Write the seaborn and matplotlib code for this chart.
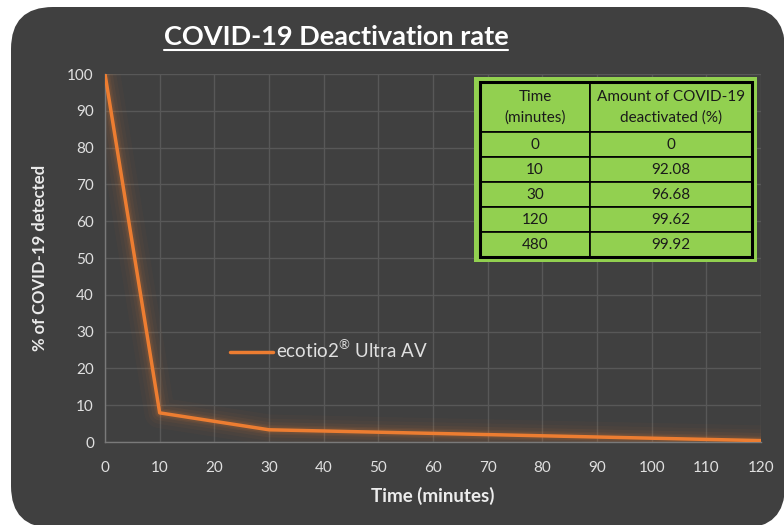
import numpy as np
import pandas as pd
import matplotlib.pyplot as plt
import seaborn as sns
from matplotlib.patches import FancyBboxPatch, Rectangle
from matplotlib.lines import Line2D

## data
time_min = [0, 10, 30, 120]
detected = [100, 7.92, 3.32, 0.38]

table_time = ["0", "10", "30", "120", "480"]
table_deact = ["0", "92.08", "96.68", "99.62", "99.92"]
table_head = ["Time\n(minutes)", "Amount of COVID-19\ndeactivated (%)"]

bg = "#404040"
orange = "#ED7D31"
green = "#92D050"
txt = "#E0E0E0"

sns.set_theme(style="darkgrid")
plt.rcParams['font.family'] = ['Lato', 'DejaVu Sans']
plt.rcParams['mathtext.fontset'] = 'custom'
plt.rcParams['mathtext.rm'] = 'Lato'

df = pd.DataFrame({"time": time_min, "detected": detected})

fig = plt.figure(figsize=(7.84, 5.25), dpi=100, facecolor="white")
## rounded dark panel
panel = FancyBboxPatch((0.11, -0.03), 7.74, 5.21, boxstyle="round,pad=0,rounding_size=0.42",
                       transform=fig.dpi_scale_trans, facecolor=bg, edgecolor="none", zorder=-5)
fig.patches.append(panel)

ax = fig.add_axes([105 / 784, 83 / 525, 656 / 784, 368 / 525])
ax.set_facecolor(bg)

# soft glow under the line
for lw, a in [(22, 0.03), (16, 0.04), (11, 0.06), (7, 0.08), (5, 0.1)]:
    ax.plot(time_min, detected, color=orange, lw=lw, alpha=a, solid_joinstyle="round", zorder=2)
sns.lineplot(data=df, x="time", y="detected", color=orange, lw=2.5, ax=ax,
             label="ecotio2$^{\\mathrm{\u00ae}}$ Ultra AV", zorder=3)

ax.set_xlim(0, 120)
ax.set_ylim(0, 100)
ax.set_xticks(range(0, 121, 10))
ax.set_yticks(range(0, 101, 10))
ax.grid(True, color="#585858", lw=1)
for s in ["top", "right"]:
    ax.spines[s].set_visible(False)
for s in ["left", "bottom"]:
    ax.spines[s].set_visible(True)
    ax.spines[s].set_color("#7a7a7a")
    ax.spines[s].set_linewidth(1)
ax.tick_params(colors=txt, labelsize=11, length=0)
ax.tick_params(axis="x", pad=14)
ax.tick_params(axis="y", pad=8)
ax.set_xlabel("Time (minutes)", color="#ececec", fontsize=13.5, fontweight="bold", labelpad=8)
ax.set_ylabel("% of COVID-19 detected", color="#ececec", fontsize=12, fontweight="bold", labelpad=14)

leg = ax.legend(loc="center left", bbox_to_anchor=(0.19, 0.25), frameon=False, fontsize=13.5,
                handlelength=2.3, handletextpad=0.15, borderpad=0, borderaxespad=0)
for t in leg.get_texts():
    t.set_color(txt)

## title with underline
title = fig.text(336 / 784, 1 - 37 / 525, "COVID-19 Deactivation rate", color="white",
                 fontsize=19.5, fontweight="bold", ha="center", va="center")
fig.canvas.draw()
bb = title.get_window_extent().transformed(fig.transFigure.inverted())
fig.add_artist(Line2D([bb.x0, bb.x1], [1 - 50 / 525] * 2, color="white", lw=1.5,
                      transform=fig.transFigure))

## green table
ax.add_patch(Rectangle((0.5625, 0.489), 0.4314, 0.5027, transform=ax.transAxes,
                       facecolor=green, edgecolor="none", zorder=4))
cells = [[a, b] for a, b in zip(table_time, table_deact)]
tab = ax.table(cellText=cells, colLabels=table_head, cellLoc="center",
               bbox=[0.5716, 0.5027, 0.4146, 0.4753], zorder=5)
tab.auto_set_font_size(False)
tab.set_fontsize(11)
widths = [0.405, 0.595]
for (r, c), cell in tab.get_celld().items():
    cell.set_facecolor(green)
    cell.set_edgecolor("black")
    cell.set_linewidth(1.2)
    cell.set_width(widths[c])
    cell.set_height(2.0 if r == 0 else 1.0)
    cell.get_text().set_color("#1a1a1a")
    if r == 0:
        cell.get_text().set_linespacing(1.6)
ax.add_patch(Rectangle((0.5716, 0.5027), 0.4146, 0.4753, transform=ax.transAxes,
                       facecolor="none", edgecolor="black", lw=2.2, zorder=6))

fig.savefig("out.png", dpi=100, facecolor="white")
